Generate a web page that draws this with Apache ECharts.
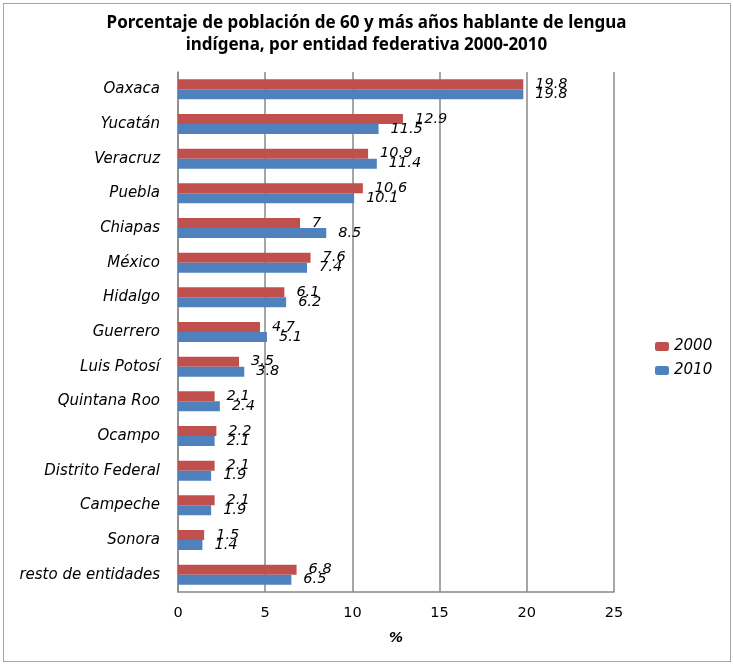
<!DOCTYPE html>
<html><head><meta charset="utf-8">
<script src="https://cdn.jsdelivr.net/npm/echarts@6/dist/echarts.min.js"></script>
<style>html,body{margin:0;padding:0;background:#fff}#c{width:733px;height:665px}
#frame{position:absolute;left:3px;top:3px;width:726px;height:657px;border:1.5px solid #a6a6a6;pointer-events:none}</style>
</head><body><div id="c"></div><div id="frame"></div>
<script>
const categories = ["Oaxaca","Yucatán","Veracruz","Puebla","Chiapas","México","Hidalgo","Guerrero","Luis Potosí","Quintana Roo","Ocampo","Distrito Federal","Campeche","Sonora","resto de entidades"];
const values2000 = [19.8,12.9,10.9,10.6,7,7.6,6.1,4.7,3.5,2.1,2.2,2.1,2.1,1.5,6.8];
const values2010 = [19.8,11.5,11.4,10.1,8.5,7.4,6.2,5.1,3.8,2.4,2.1,1.9,1.9,1.4,6.5];
const seriesNames = ["2000","2010"];
const titleText = "Porcentaje de población de 60 y más años hablante de lengua\nindígena, por entidad federativa 2000-2010";

const FF = '"DejaVu Sans", sans-serif';
const chart = echarts.init(document.getElementById('c'));
const lbl = {show:true, position:'right', distance:12, fontFamily:FF, fontStyle:'italic', fontSize:14.5, color:'#000'};
chart.setOption({
  animation:false,
  title:{text:titleText, left:'center', top:7, textStyle:{fontFamily:'"Noto Sans", sans-serif', fontWeight:'bold', fontSize:17, lineHeight:22, color:'#000'}},
  legend:{orient:'vertical', left:650, top:334, itemWidth:14, itemHeight:9, itemGap:9,
    textStyle:{fontFamily:FF, fontStyle:'italic', fontSize:15, color:'#000'}, data:seriesNames},
  grid:{left:178, right:119, top:72, bottom:73, containLabel:false},
  xAxis:{type:'value', min:0, max:25, interval:5,
    name:'%', nameLocation:'middle', nameGap:39, nameTextStyle:{fontFamily:FF, fontStyle:'italic', fontWeight:'bold', fontSize:14, color:'#000'},
    axisLine:{show:true, lineStyle:{color:'#888', width:1.5}}, axisTick:{show:false},
    axisLabel:{fontFamily:FF, fontSize:14.5, color:'#000', margin:14},
    splitLine:{show:true, lineStyle:{color:'#888', width:1.5}}},
  yAxis:{type:'category', data:categories, inverse:true,
    axisLine:{show:true, lineStyle:{color:'#888', width:1.5}}, axisTick:{show:false},
    axisLabel:{fontFamily:FF, fontStyle:'italic', fontSize:15, color:'#000', margin:18}},
  series:[
    {name:seriesNames[0], type:'bar', data:values2000, barWidth:10, barGap:'0%', itemStyle:{color:'#c0504d'}, label:lbl},
    {name:seriesNames[1], type:'bar', data:values2010, barWidth:10, barGap:'0%', itemStyle:{color:'#4f81bd'}, label:lbl}
  ]
});
</script></body></html>
